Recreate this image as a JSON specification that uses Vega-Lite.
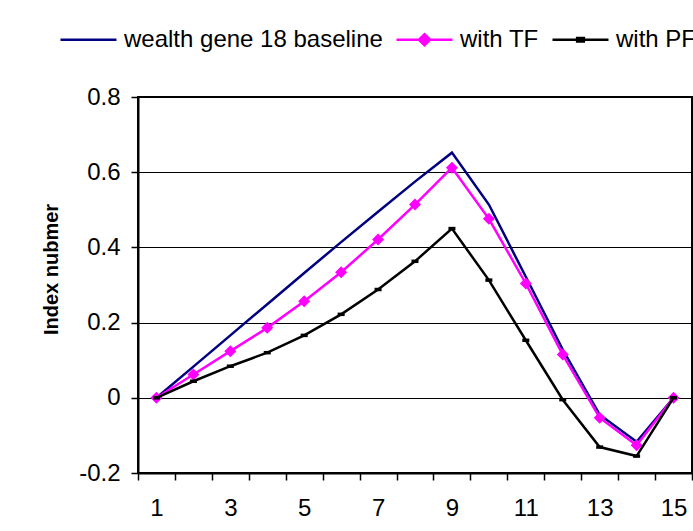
{
  "$schema": "https://vega.github.io/schema/vega-lite/v6.json",
  "autosize": "none",
  "width": 554,
  "height": 376,
  "padding": {"left": 138, "top": 97, "right": 1, "bottom": 58},
  "background": "white",
  "config": {
    "font": "Liberation Sans",
    "view": {"stroke": "black", "strokeWidth": 2},
    "axis": {"labelFont": "Liberation Sans", "titleFont": "Liberation Sans", "labelColor": "black", "titleColor": "black", "domainColor": "black", "tickColor": "black", "domainWidth": 2, "tickWidth": 1.5}
  },
  "data": {"values": [
    {"t": 1, "series": "wealth gene 18 baseline", "v": 0},
    {"t": 2, "series": "wealth gene 18 baseline", "v": 0.083},
    {"t": 3, "series": "wealth gene 18 baseline", "v": 0.166},
    {"t": 4, "series": "wealth gene 18 baseline", "v": 0.249},
    {"t": 5, "series": "wealth gene 18 baseline", "v": 0.332},
    {"t": 6, "series": "wealth gene 18 baseline", "v": 0.414},
    {"t": 7, "series": "wealth gene 18 baseline", "v": 0.495},
    {"t": 8, "series": "wealth gene 18 baseline", "v": 0.575},
    {"t": 9, "series": "wealth gene 18 baseline", "v": 0.652},
    {"t": 10, "series": "wealth gene 18 baseline", "v": 0.514},
    {"t": 11, "series": "wealth gene 18 baseline", "v": 0.322},
    {"t": 12, "series": "wealth gene 18 baseline", "v": 0.128},
    {"t": 13, "series": "wealth gene 18 baseline", "v": -0.045},
    {"t": 14, "series": "wealth gene 18 baseline", "v": -0.117},
    {"t": 15, "series": "wealth gene 18 baseline", "v": 0},
    {"t": 1, "series": "with TF", "v": 0},
    {"t": 2, "series": "with TF", "v": 0.062},
    {"t": 3, "series": "with TF", "v": 0.124},
    {"t": 4, "series": "with TF", "v": 0.186},
    {"t": 5, "series": "with TF", "v": 0.257},
    {"t": 6, "series": "with TF", "v": 0.334},
    {"t": 7, "series": "with TF", "v": 0.421},
    {"t": 8, "series": "with TF", "v": 0.514},
    {"t": 9, "series": "with TF", "v": 0.612},
    {"t": 10, "series": "with TF", "v": 0.476},
    {"t": 11, "series": "with TF", "v": 0.304},
    {"t": 12, "series": "with TF", "v": 0.115},
    {"t": 13, "series": "with TF", "v": -0.053},
    {"t": 14, "series": "with TF", "v": -0.126},
    {"t": 15, "series": "with TF", "v": 0},
    {"t": 1, "series": "with PF", "v": 0},
    {"t": 2, "series": "with PF", "v": 0.044},
    {"t": 3, "series": "with PF", "v": 0.084},
    {"t": 4, "series": "with PF", "v": 0.12},
    {"t": 5, "series": "with PF", "v": 0.166},
    {"t": 6, "series": "with PF", "v": 0.222},
    {"t": 7, "series": "with PF", "v": 0.288},
    {"t": 8, "series": "with PF", "v": 0.363},
    {"t": 9, "series": "with PF", "v": 0.45},
    {"t": 10, "series": "with PF", "v": 0.313},
    {"t": 11, "series": "with PF", "v": 0.153},
    {"t": 12, "series": "with PF", "v": -0.005},
    {"t": 13, "series": "with PF", "v": -0.131},
    {"t": 14, "series": "with PF", "v": -0.155},
    {"t": 15, "series": "with PF", "v": 0}
  ]},
  "encoding": {
    "x": {
      "field": "t", "type": "ordinal",
      "scale": {"type": "band", "paddingInner": 0, "paddingOuter": 0},
      "axis": {
        "title": null, "labelAngle": 0, "labelFontSize": 24, "labelPadding": 16, "tickSize": 7,
        "tickBand": "extent", "grid": false,
        "labelExpr": "datum.value % 2 == 1 ? datum.label : ''"
      }
    },
    "y": {
      "field": "v", "type": "quantitative",
      "scale": {"domain": [-0.2, 0.8], "nice": false, "zero": false},
      "axis": {
        "title": "Index nubmer", "titleFontSize": 20, "titleFontWeight": "bold", "titlePadding": 17, "titleY": 172,
        "values": [-0.2, 0, 0.2, 0.4, 0.6, 0.8],
        "labelFontSize": 24, "labelPadding": 11, "tickSize": 7,
        "grid": true, "gridColor": "black", "gridWidth": 1, "gridOpacity": 1,
        "labelExpr": "datum.value == 0 ? '0' : (datum.value < 0 ? '-' + format(-datum.value, '.1f') : format(datum.value, '.1f'))"
      }
    },
    "color": {
      "field": "series", "type": "nominal",
      "scale": {"domain": ["wealth gene 18 baseline", "with TF", "with PF"], "range": ["#000080", "#FF00FF", "#000000"]},
      "legend": {
        "orient": "none", "legendX": -79, "legendY": -87, "direction": "horizontal",
        "title": null, "padding": 0, "labelFontSize": 24, "labelColor": "black", "labelFont": "Liberation Sans",
        "labelLimit": 400, "symbolSize": 3136, "symbolStrokeWidth": 2.5, "labelOffset": 6, "columnPadding": 8,
        "encode": {"symbols": {"update": {
          "shape": {"signal": "datum.value == 'with TF' ? 'M-1,0H1M0,-0.2L0.2,0L0,0.2L-0.2,0Z' : (datum.value == 'with PF' ? 'M-1,0H1M-0.12,-0.06H0.12V0.06H-0.12Z' : 'M-1,0H1')"},
          "fill": {"signal": "datum.value == 'with TF' ? '#FF00FF' : (datum.value == 'with PF' ? '#000000' : 'transparent')"}
        }}}
      }
    }
  },
  "layer": [
    {"transform": [{"filter": "datum.series == 'wealth gene 18 baseline'"}], "mark": {"type": "line", "strokeWidth": 2.5}},
    {"transform": [{"filter": "datum.series == 'with TF'"}], "mark": {"type": "line", "strokeWidth": 2.5}},
    {"transform": [{"filter": "datum.series == 'with TF'"}], "mark": {"type": "point", "shape": "diamond", "filled": true, "size": 144, "opacity": 1}},
    {"transform": [{"filter": "datum.series == 'with PF'"}], "mark": {"type": "line", "strokeWidth": 2.5}},
    {"transform": [{"filter": "datum.series == 'with PF'"}], "mark": {"type": "point", "shape": "M-1,-0.5H1V0.5H-1Z", "filled": true, "size": 49, "opacity": 1}}
  ]
}
